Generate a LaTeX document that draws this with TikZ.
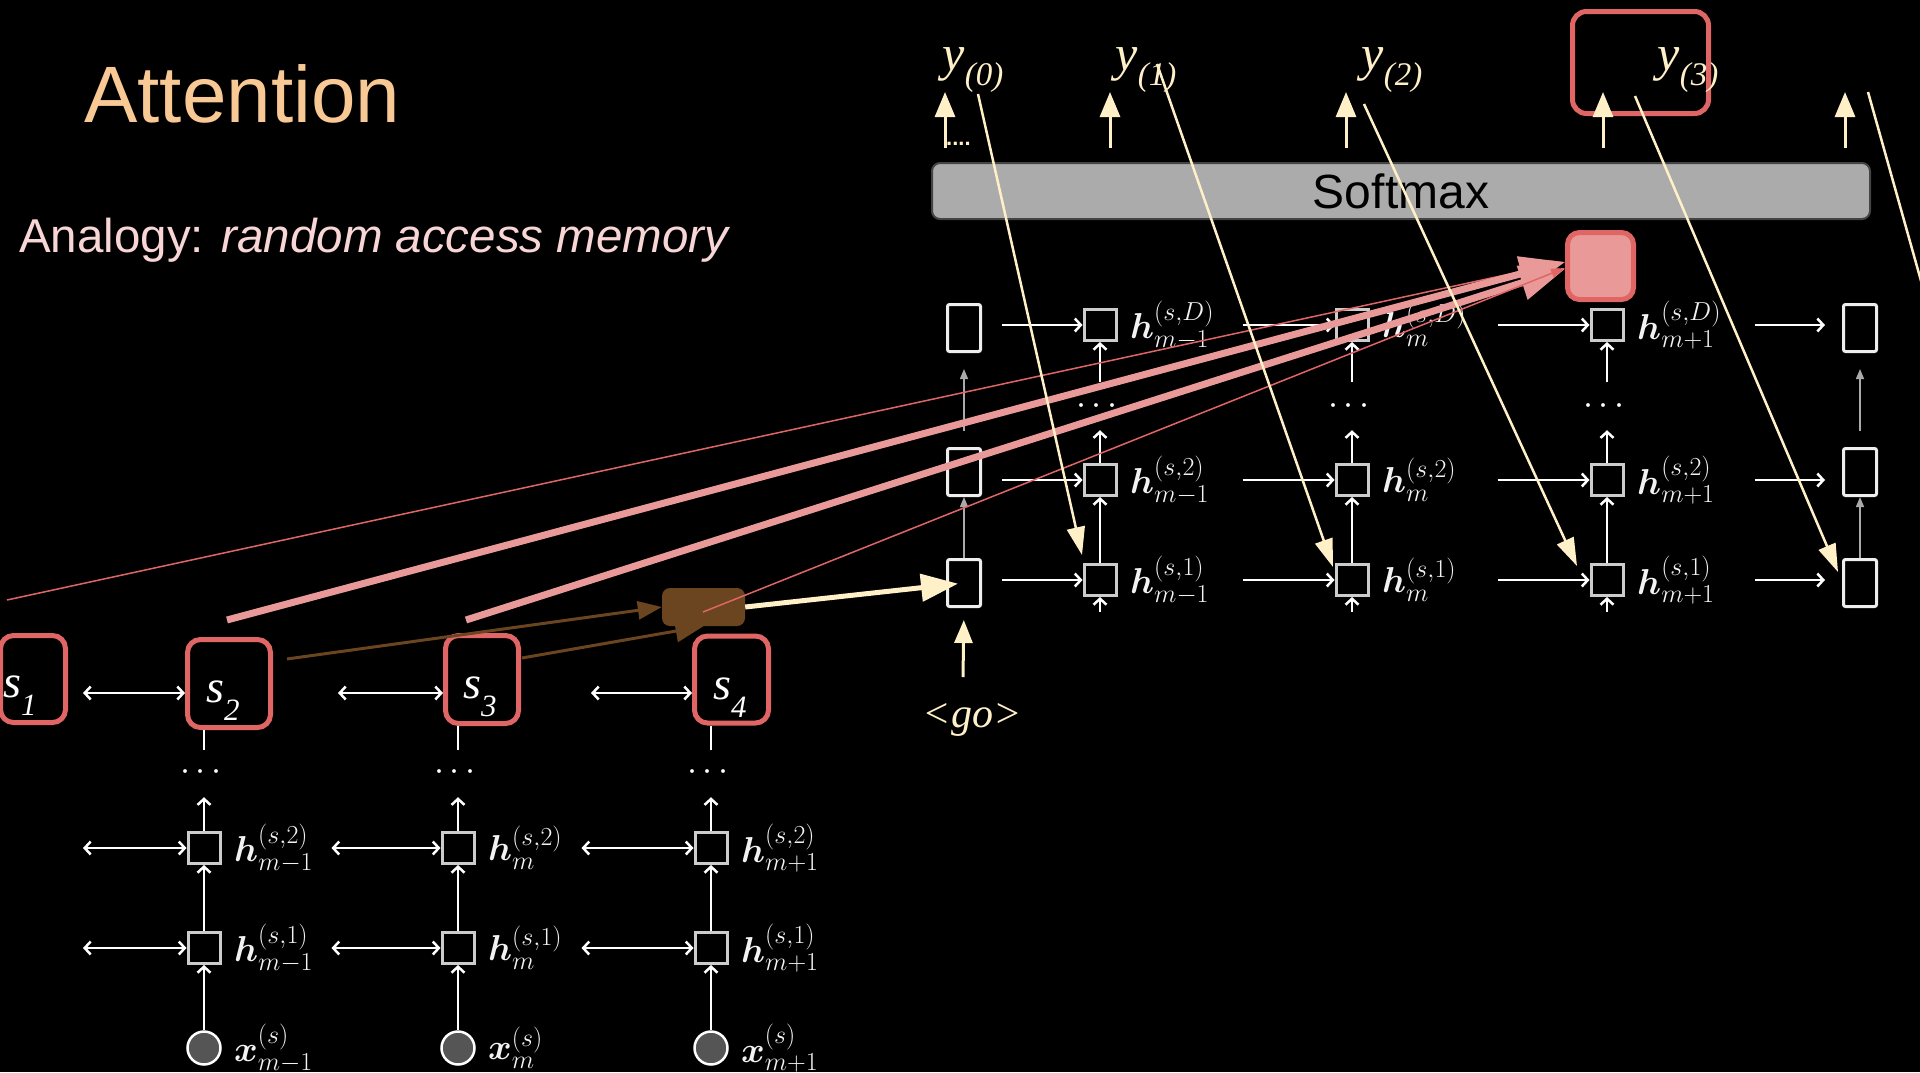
\RequirePackage{fix-cm}
\documentclass[tikz,border=0pt]{standalone}
\usepackage[no-math]{fontspec}
\usepackage{amsmath}
\usetikzlibrary{arrows.meta,calc}
\newfontfamily\sansf{Liberation Sans}
\newfontfamily\timesf{Liberation Serif}
\DeclareMathSizes{36}{36}{26}{19}
\definecolor{cream}{HTML}{FFF0C8}
\definecolor{peach}{HTML}{F9C995}
\definecolor{lpink}{HTML}{F8D6D6}
\definecolor{sred}{HTML}{E06666}
\definecolor{pinkf}{HTML}{EA9999}
\definecolor{brownf}{HTML}{6B4420}
\definecolor{sqgray}{HTML}{CCCCCC}
\definecolor{boxw}{HTML}{EEEEEE}
\definecolor{barg}{HTML}{ABABAB}
\definecolor{barb}{HTML}{444444}
\definecolor{labw}{HTML}{F2F2F2}
\definecolor{garrow}{HTML}{AAAAAA}
\definecolor{xgray}{HTML}{555555}
\tikzset{
 every node/.style={inner sep=0pt},
 wl/.style={draw=white, line width=2.5pt},
 wtip/.style={wl, -{Straight Barb[length=6pt,width=13pt]}},
 bitip/.style={wl, {Straight Barb[length=6pt,width=13pt]}-{Straight Barb[length=6pt,width=13pt]}},
 gtip/.style={draw=garrow, line width=1.5pt, -{Triangle[length=10pt,width=8pt]}},
 sq/.style={draw=sqgray, line width=3pt, fill=black, minimum width=32pt, minimum height=31pt},
 tallbox/.style={draw=boxw, line width=3pt, fill=black, rounded corners=2pt, minimum width=33pt, minimum height=47pt},
 sbox/.style={draw=sred, line width=5pt, fill=black, rounded corners=13pt},
 xcirc/.style={circle, draw=white, line width=2.5pt, fill=xgray, minimum size=33pt},
 lab/.style={anchor=west, text=labw, font=\fontsize{36}{42}\selectfont},
 dotsn/.style={text=white, font=\fontsize{36}{42}\selectfont},
 ylab/.style={text=cream, font=\timesf\itshape\fontsize{50}{60}\selectfont},
 slab/.style={text=white, font=\timesf\itshape\fontsize{46}{55}\selectfont},
 upar/.style={draw=cream, line width=3pt, -{Triangle[length=25pt,width=20pt]}},
 cline/.style={draw=cream, line width=2.5pt, -{Triangle[length=28pt,width=18pt]}},
 thinp/.style={draw=sred, line width=1.5pt, -{Triangle[length=14pt,width=9pt]}},
 thickp/.style={draw=pinkf, line width=7pt, -{Triangle[length=45pt,width=34pt]}},
 brar/.style={draw=brownf, line width=3pt, -{Triangle[length=24pt,width=18pt]}},
}
\begin{document}
\begin{tikzpicture}[x=1pt,y=-1pt]
\useasboundingbox (0,0) rectangle (1920,1072);
\fill[black] (0,0) rectangle (1920,1072);

% titles
\node[anchor=base west, text=peach, font=\sansf\fontsize{80}{96}\selectfont] (title) at (84,122) {Attention};
\node[anchor=base west, text=lpink, font=\sansf\fontsize{47.5}{57}\selectfont] (analogy) at (19,252) {Analogy: \textit{random access memory}};

% softmax and outputs
\node[draw=barb, fill=barg, line width=2pt, rounded corners=8pt, minimum width=938pt, minimum height=56pt, font=\sansf\fontsize{48}{58}\selectfont, text=black] (soft) at (1401,191) {Softmax};
\node[draw=sred, line width=5pt, rounded corners=14pt, minimum width=136pt, minimum height=102pt] (ybox) at (1640.5,62.5) {};
\node[ylab] (y0) at (973,70) {y\raisebox{-15pt}{\fontsize{33}{40}\selectfont(0)}};
\node[ylab] (y1) at (1146,70) {y\raisebox{-15pt}{\fontsize{33}{40}\selectfont(1)}};
\node[ylab] (y2) at (1392,70) {y\raisebox{-15pt}{\fontsize{33}{40}\selectfont(2)}};
\node[ylab] (y3) at (1688,70) {y\raisebox{-15pt}{\fontsize{33}{40}\selectfont(3)}};
\coordinate (u0s) at (945,148); \coordinate (u0e) at (945,92);
\coordinate (u1s) at (1110,148); \coordinate (u1e) at (1110,92);
\coordinate (u2s) at (1346,148); \coordinate (u2e) at (1346,92);
\coordinate (u3s) at (1603,148); \coordinate (u3e) at (1603,92);
\coordinate (u4s) at (1845,148); \coordinate (u4e) at (1845,92);
\draw[upar] (u0s) -- (u0e);
\draw[upar] (u1s) -- (u1e);
\draw[upar] (u2s) -- (u2e);
\draw[upar] (u3s) -- (u3e);
\draw[upar] (u4s) -- (u4e);
\node[anchor=base west, text=cream, font=\sansf\bfseries\fontsize{22}{26}\selectfont] (dd) at (946,145) {....};

% decoder grid
\node[tallbox] (c0T) at (964,328) {};
\node[tallbox] (c0M) at (964,472) {};
\node[tallbox] (c0B) at (964,583) {};
\node[tallbox] (c4T) at (1860,328) {};
\node[tallbox] (c4M) at (1860,472) {};
\node[tallbox] (c4B) at (1860,583) {};
\node[sq] (c1D) at (1100,325) {}; \node[sq] (c12) at (1100,480) {}; \node[sq] (c11) at (1100,580) {};
\node[sq] (c2D) at (1352,325) {}; \node[sq] (c22) at (1352,480) {}; \node[sq] (c21) at (1352,580) {};
\node[sq] (c3D) at (1607,325) {}; \node[sq] (c32) at (1607,480) {}; \node[sq] (c31) at (1607,580) {};
\node[dotsn] (d1) at (1100,406) {$\cdots$};
\node[dotsn] (d2) at (1352,406) {$\cdots$};
\node[dotsn] (d3) at (1607,406) {$\cdots$};
\node[lab] (l1D) at (1130,325) {$\boldsymbol{h}^{(s,D)}_{m-1}$};
\node[lab] (l12) at (1130,480) {$\boldsymbol{h}^{(s,2)}_{m-1}$};
\node[lab] (l11) at (1130,580) {$\boldsymbol{h}^{(s,1)}_{m-1}$};
\node[lab] (l2D) at (1382,325) {$\boldsymbol{h}^{(s,D)}_{m}$};
\node[lab] (l22) at (1382,480) {$\boldsymbol{h}^{(s,2)}_{m}$};
\node[lab] (l21) at (1382,580) {$\boldsymbol{h}^{(s,1)}_{m}$};
\node[lab] (l3D) at (1637,325) {$\boldsymbol{h}^{(s,D)}_{m+1}$};
\node[lab] (l32) at (1637,480) {$\boldsymbol{h}^{(s,2)}_{m+1}$};
\node[lab] (l31) at (1637,580) {$\boldsymbol{h}^{(s,1)}_{m+1}$};
% horizontal decoder arrows
\draw[wtip, shorten <=20pt] (c0T.east |- c1D.west) -- (c1D.west);
\draw[wtip, shorten <=20pt] (c0M.east |- c12.west) -- (c12.west);
\draw[wtip, shorten <=20pt] (c0B.east |- c11.west) -- (c11.west);
\draw[wtip, shorten <=125pt] (c1D.east) -- (c2D.west);
\draw[wtip, shorten <=125pt] (c12.east) -- (c22.west);
\draw[wtip, shorten <=125pt] (c11.east) -- (c21.west);
\draw[wtip, shorten <=128pt] (c2D.east) -- (c3D.west);
\draw[wtip, shorten <=128pt] (c22.east) -- (c32.west);
\draw[wtip, shorten <=128pt] (c21.east) -- (c31.west);
\draw[wtip, shorten <=130pt, shorten >=17pt] (c3D.east) -- (c3D.east -| c4T.west);
\draw[wtip, shorten <=130pt, shorten >=17pt] (c32.east) -- (c32.east -| c4M.west);
\draw[wtip, shorten <=130pt, shorten >=17pt] (c31.east) -- (c31.east -| c4B.west);
% vertical decoder arrows
\coordinate (b1) at (1100,612); \coordinate (b2) at (1352,612); \coordinate (b3) at (1607,612);
\draw[wtip] (b1) -- (c11.south);
\draw[wtip] (b2) -- (c21.south);
\draw[wtip] (b3) -- (c31.south);
\draw[wtip] (c11.north) -- (c12.south);
\draw[wtip] (c21.north) -- (c22.south);
\draw[wtip] (c31.north) -- (c32.south);
\draw[wtip, shorten >=16pt] (c12.north) -- (d1);
\draw[wtip, shorten >=16pt] (c22.north) -- (d2);
\draw[wtip, shorten >=16pt] (c32.north) -- (d3);
\draw[wtip, shorten <=16pt] (d1) -- (c1D.south);
\draw[wtip, shorten <=16pt] (d2) -- (c2D.south);
\draw[wtip, shorten <=16pt] (d3) -- (c3D.south);
\draw[gtip] (c0B.north) -- (c0M.south);
\draw[gtip, shorten <=16pt, shorten >=16pt] (c0M.north) -- (c0T.south);
\draw[gtip] (c4B.north) -- (c4M.south);
\draw[gtip, shorten <=16pt, shorten >=16pt] (c4M.north) -- (c4T.south);
% go input
\node[text=cream, font=\timesf\itshape\fontsize{42}{50}\selectfont] (go) at (972,720) {\textless go\textgreater};
\coordinate (gos) at (963,677);
\draw[draw=cream, line width=3pt, -{Triangle[length=23pt,width=18pt]}, shorten >=12pt] (gos) -- (c0B.south);

% encoder
\node[sbox, minimum width=65pt, minimum height=87pt] (s1) at (33,679) {};
\node[sbox, minimum width=83pt, minimum height=88pt] (s2) at (229,683.5) {};
\node[sbox, minimum width=73pt, minimum height=88pt] (s3) at (482,679.5) {};
\node[sbox, minimum width=74pt, minimum height=87pt] (s4) at (731.5,679.5) {};
\node[slab] (ls1) at (20,696) {s\raisebox{-18pt}{\fontsize{31}{36}\selectfont 1}};
\node[slab] (ls2) at (223,701) {s\raisebox{-18pt}{\fontsize{31}{36}\selectfont 2}};
\node[slab] (ls3) at (480,697) {s\raisebox{-18pt}{\fontsize{31}{36}\selectfont 3}};
\node[slab] (ls4) at (730,698) {s\raisebox{-18pt}{\fontsize{31}{36}\selectfont 4}};
\node[sq] (eA2) at (204,848) {}; \node[sq] (eA1) at (204,948) {}; \node[xcirc] (eA0) at (204,1048) {};
\node[sq] (eB2) at (458,848) {}; \node[sq] (eB1) at (458,948) {}; \node[xcirc] (eB0) at (458,1048) {};
\node[sq] (eC2) at (711,848) {}; \node[sq] (eC1) at (711,948) {}; \node[xcirc] (eC0) at (711,1048) {};
\node[dotsn] (eAd) at (204,772) {$\cdots$};
\node[dotsn] (eBd) at (458,772) {$\cdots$};
\node[dotsn] (eCd) at (711,772) {$\cdots$};
\node[lab] (mA2) at (234,848) {$\boldsymbol{h}^{(s,2)}_{m-1}$};
\node[lab] (mA1) at (234,948) {$\boldsymbol{h}^{(s,1)}_{m-1}$};
\node[lab] (mA0) at (234,1048) {$\boldsymbol{x}^{(s)}_{m-1}$};
\node[lab] (mB2) at (488,848) {$\boldsymbol{h}^{(s,2)}_{m}$};
\node[lab] (mB1) at (488,948) {$\boldsymbol{h}^{(s,1)}_{m}$};
\node[lab] (mB0) at (488,1048) {$\boldsymbol{x}^{(s)}_{m}$};
\node[lab] (mC2) at (741,848) {$\boldsymbol{h}^{(s,2)}_{m+1}$};
\node[lab] (mC1) at (741,948) {$\boldsymbol{h}^{(s,1)}_{m+1}$};
\node[lab] (mC0) at (741,1048) {$\boldsymbol{x}^{(s)}_{m+1}$};
% encoder verticals
\draw[wtip] (eA0.north) -- (eA1.south);
\draw[wtip] (eB0.north) -- (eB1.south);
\draw[wtip] (eC0.north) -- (eC1.south);
\draw[wtip] (eA1.north) -- (eA2.south);
\draw[wtip] (eB1.north) -- (eB2.south);
\draw[wtip] (eC1.north) -- (eC2.south);
\draw[wtip, shorten >=17pt] (eA2.north) -- (eAd);
\draw[wtip, shorten >=17pt] (eB2.north) -- (eBd);
\draw[wtip, shorten >=17pt] (eC2.north) -- (eCd);
\draw[wl, shorten >=14pt] (s2.south -| eAd) -- (eAd);
\draw[wl, shorten >=14pt] (s3.south -| eBd) -- (eBd);
\draw[wl, shorten >=14pt] (s4.south -| eCd) -- (eCd);
% encoder horizontals
\coordinate (eL2) at (83,848); \coordinate (eL1) at (83,948);
\draw[bitip] (eL2) -- (eA2.west);
\draw[bitip] (eL1) -- (eA1.west);
\draw[bitip, shorten <=110pt] (eA2.east) -- (eB2.west);
\draw[bitip, shorten <=110pt] (eA1.east) -- (eB1.west);
\draw[bitip, shorten <=106pt] (eB2.east) -- (eC2.west);
\draw[bitip, shorten <=106pt] (eB1.east) -- (eC1.west);
\draw[bitip, shorten <=15pt] ([yshift=-14pt]s1.east) -- ([yshift=-14pt]s1.east -| s2.west);
\draw[bitip, shorten <=65pt] ([yshift=-9.5pt]s2.east) -- ([yshift=-9.5pt]s2.east -| s3.west);
\draw[bitip, shorten <=70pt] ([yshift=-13.5pt]s3.east) -- ([yshift=-13.5pt]s3.east -| s4.west);

% context (brown) box
\node[fill=brownf, rounded corners=8pt, minimum width=83pt, minimum height=38pt] (ctx) at (703.5,607) {};
\coordinate (br1) at (287,659); \coordinate (br2) at (522,658);
\draw[brar] (br1) -- (ctx.west);
\draw[brar, -{Triangle[length=28pt,width=22pt]}] (br2) -- (ctx.south);

% attention lines
\node[fill=pinkf, draw=sred, line width=5pt, rounded corners=12pt, minimum width=66pt, minimum height=67pt] (att) at (1600.5,266) {};
\coordinate (p1) at (7,600); \coordinate (p2) at (227,620); \coordinate (p3) at (466,620); \coordinate (p4) at (703,612);
\draw[thinp] (p1) -- ([yshift=4pt]att.west);
\draw[thickp] (p2) -- ([yshift=4pt]att.west);
\draw[thickp] (p3) -- ([yshift=-3pt]att.west);
\draw[thinp] (p4) -- ([yshift=-2pt]att.west);

% context to decoder
\draw[draw=cream, line width=5pt, -{Triangle[length=37pt,width=27pt]}, shorten >=6pt] (ctx.east) -- (c0B.center);

% feedback lines
\coordinate (f1s) at (978,94);   \coordinate (f1e) at (1082,555);
\coordinate (f2s) at (1157,64);  \coordinate (f2e) at (1333,567);
\coordinate (f3s) at (1364,104); \coordinate (f3e) at (1577,566);
\coordinate (f4s) at (1635,96);  \coordinate (f4e) at (1838,572);
\coordinate (f5s) at (1868,92);  \coordinate (f5e) at (1932,320);
\draw[cline] (f1s) -- (f1e);
\draw[cline] (f2s) -- (f2e);
\draw[cline] (f3s) -- (f3e);
\draw[cline] (f4s) -- (f4e);
\draw[draw=cream, line width=2.5pt] (f5s) -- (f5e);
\end{tikzpicture}
\end{document}
